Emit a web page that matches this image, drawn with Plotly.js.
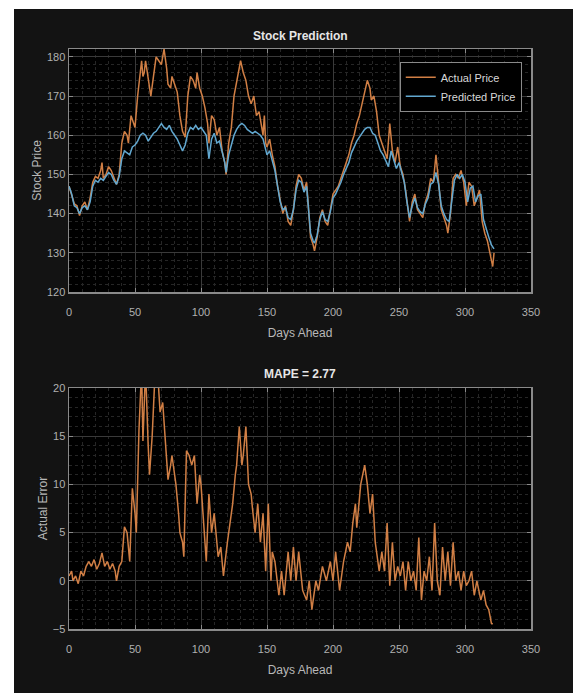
<!DOCTYPE html>
<html>
<head>
<meta charset="utf-8">
<script src="https://cdn.plot.ly/plotly-3.0.1.min.js"></script>
<style>
html,body{margin:0;padding:0;background:#ffffff;width:573px;height:693px;overflow:hidden;}
#chart{position:absolute;left:14px;top:9px;width:559px;height:684px;}
</style>
</head>
<body>
<div id="chart"></div>
<script>
// ---- data ----
const actualDays = [0,2,4,6,8,10,12,14,16,18,20,22,24,25,26,28,30,32,34,36,38,40,42,44,45,47,49,50,52,54,55,56,57,58,60,62,64,66,68,70,72,74,75,77,78,80,82,84,86,88,90,92,94,96,97,99,101,103,105,106,108,110,112,114,116,118,119,121,123,125,127,129,130,132,134,136,138,140,142,144,146,147,148,149,150,152,154,156,158,160,162,164,166,168,170,172,174,176,178,180,181,182,183,185,186,188,190,192,194,196,198,200,202,204,206,208,210,212,214,216,218,220,222,224,226,228,229,231,233,235,237,239,241,243,245,247,249,251,253,255,257,258,260,262,264,266,268,270,272,274,276,278,280,282,284,286,287,289,291,293,295,297,299,301,303,305,307,309,311,313,315,317,319,320,321,322];
const actualPrice = [147,145,142.5,142,139.5,142,143,141,144,148,149.5,149,151,153,149,150,152,151,149,147.5,150,158,161,160,158,165,163,162,170,177,179,175,176,179,175,170,175,180,179,178,182,177,173,172,175,173,171,165,161,159.5,170,175,174,172,176,172,170,167,163,158,165,164,160,162,156,153,150,158,162,170,174,177,179,176,174,170,168,170,165,166,162,160,165,158,157,159,155,152,147,143,140,142,138,137,141,147,150,149,146,148,143,138,134,132,130.5,134,139,141,138,137,141,145,146,147,149,151,153,155,158,160,163,165,168,171,174,172,169,170,166,160,158,156,154,163,156,153,157,152,150,146,140,138,143,145,141,140,139,143,145,149,148,155,147,141,139,137,135,140,149,150,149,151,148,142,148,147,142,144,146,138,135,133,130,128,126.5,130];

const predDays = [0,2,4,6,8,10,12,14,16,18,20,22,24,26,28,30,32,34,36,38,40,42,44,46,48,50,52,54,56,58,60,62,64,66,68,70,72,74,76,78,80,82,84,86,88,90,92,94,96,98,100,102,104,106,108,110,112,114,116,118,119,121,123,125,127,129,131,133,135,137,139,141,143,145,147,149,150,152,154,156,158,160,162,164,166,168,170,172,174,176,178,180,181,182,183,185,186,188,190,192,194,196,198,200,202,204,206,208,210,212,214,216,218,220,222,224,226,228,230,232,234,236,238,240,242,244,246,248,250,252,254,256,258,260,262,264,266,268,270,272,274,276,278,280,282,284,286,288,290,292,294,296,298,300,302,304,306,308,310,312,314,316,318,320,322];
const predictedPrice = [147,145,142,141.5,140,141.5,142,141,143,147,148.5,148,149,148.5,149.5,150.5,150,148.5,147.5,149.5,154,156,155.5,155,157,157.5,158.5,160,160.5,160,158.5,159.5,160.5,161,162,163,162,161.5,162.5,161,160,159,157.5,156,157.5,160.5,162,161.5,162.5,161.5,162,161,160,154,159,160.5,158,158.5,156,153,150.5,155,157.5,160,161.5,162.5,163,162.5,161.5,161,160.5,161,160.5,160,159,156,155,156,153.5,151,147,143,141,141.5,139,138.5,141,146,148.5,148,145.5,147,143,139,135,133,132.5,134.5,138.5,140.5,138.5,138,140.5,144,145,146.5,148,150,151.5,153,155.5,157,158.5,159.5,160.5,161.5,162,162,160.5,160,158,156,155,153.5,152,156,153.5,151.5,153,150.5,148,143,139,142,144,141.5,140.5,140,142.5,144,147.5,148,150.5,147.5,142,140,138.5,138,143,148.5,150,149,150,148,143,146.5,147,143,144.5,145,138.5,136,134,132,131];

const errorDays = [0,2,3,5,7,9,11,13,15,17,19,21,23,25,27,29,31,33,35,36,38,40,42,44,46,48,50,51,53,54,55,56,57,58,60,61,63,65,67,69,71,73,75,77,78,80,81,83,84,86,87,89,91,93,95,97,99,100,102,104,106,108,110,112,113,115,117,120,122,124,126,127,129,131,132,134,136,138,139,141,143,145,147,149,151,153,154,156,159,161,163,166,168,170,172,174,177,180,182,184,187,189,192,195,198,200,202,205,208,211,213,215,217,218,221,224,226,228,230,232,235,237,239,241,243,245,247,249,251,253,255,257,259,261,263,265,267,269,271,273,275,277,279,281,283,285,287,289,291,293,295,297,299,301,303,305,307,309,312,314,316,318,320,321];
const actualError = [0.5,1,0,0.5,-0.3,1,0.5,1.5,2,1.5,2.2,1.2,1.8,2.9,1.5,2,1.2,1.8,1,0,1.5,2,5.6,5,2,9.6,7,5,15.6,21,22,14.5,21,22,14,11,15,21,22,17.5,18.5,14,10.5,12,13,11,10,7,5,4,2.5,13.5,13,12,13,8,11,10,6,2,9,5,7,4,2.5,3.5,0.5,4,6,8,11,12,16,12,13,16,10,9,7.5,5,8,4,7,1,8,0,3,2,-1.5,1,-1.5,3,0,3.5,0,3,-1,-2,0,-3,0,-1,1.5,0,2,0,3,-1,2,4,3,6,8,5.5,10,12,10,7,9,4,1,3,1,6,-0.5,4,0,1.5,0.5,2,-1,2,0,1,-1,4.5,-2,1,0,2.5,-1,6,0,-1.5,3.5,0,3,-0.5,4,0,1,-1,1,-0.5,0,1,-1.5,0,-2,-1,-2.5,-3,-4.4,-4.5];

const xTicks = [0,50,100,150,200,250,300,350];
const priceTicks = [120,130,140,150,160,170,180];
const errorTicks = [-5,0,5,10,15,20];

// ---- styling ----
const ORANGE = '#D17F45';
const BLUE = '#62A8D0';
const FONT = 'Liberation Sans, Arial, Helvetica, sans-serif';

function axisStyle(extra) {
  return Object.assign({
    showline: true, mirror: 'ticks', linecolor: '#8a8a8a', linewidth: 1.5,
    ticks: 'inside', ticklen: 4, tickcolor: '#8a8a8a',
    showgrid: true, gridcolor: '#3a3a3a', gridwidth: 1,
    zeroline: false,
    tickfont: {family: FONT, size: 11, color: '#b0b0b0'}
  }, extra);
}
const xTitleFont = {family: FONT, size: 12, color: '#b8b8b8'};

const traces = [
  {x: actualDays, y: actualPrice, type: 'scatter', mode: 'lines', name: 'Actual Price',
   line: {color: ORANGE, width: 1.5}, xaxis: 'x', yaxis: 'y'},
  {x: predDays, y: predictedPrice, type: 'scatter', mode: 'lines', name: 'Predicted Price',
   line: {color: BLUE, width: 1.5}, xaxis: 'x', yaxis: 'y'},
  {x: errorDays, y: actualError, type: 'scatter', mode: 'lines', name: 'Error',
   line: {color: ORANGE, width: 1.5}, xaxis: 'x2', yaxis: 'y2', showlegend: false}
];

const layout = {
  width: 559, height: 684,
  paper_bgcolor: '#131313', plot_bgcolor: '#000000',
  margin: {l: 55, r: 42, t: 40, b: 64},
  showlegend: true,
  legend: {x: 0.98, y: 0.978, xanchor: 'right', yanchor: 'top',
           bgcolor: '#000000', bordercolor: '#8a8a8a', borderwidth: 1,
           font: {family: FONT, size: 11, color: '#d8d8d8'}},
  xaxis: axisStyle({domain: [0, 1], anchor: 'y', range: [0, 350], tickvals: xTicks, ticklabelstandoff: 9,
    minor: {showgrid: true, dtick: 10, gridcolor: '#262626', griddash: 'dot', ticks: ''},
    title: {text: 'Days Ahead', font: xTitleFont, standoff: 12}}),
  yaxis: axisStyle({domain: [0.581, 1], anchor: 'x', range: [120, 182], tickvals: priceTicks,
    minor: {showgrid: true, dtick: 2, gridcolor: '#262626', griddash: 'dot', ticks: ''},
    title: {text: 'Stock Price', font: xTitleFont, standoff: 2}}),
  xaxis2: axisStyle({domain: [0, 1], anchor: 'y2', range: [0, 350], tickvals: xTicks, ticklabelstandoff: 9,
    minor: {showgrid: true, dtick: 10, gridcolor: '#262626', griddash: 'dot', ticks: ''},
    title: {text: 'Days Ahead', font: xTitleFont, standoff: 12}}),
  yaxis2: axisStyle({domain: [0, 0.4155], anchor: 'x2', range: [-5, 20], tickvals: errorTicks,
    minor: {showgrid: true, dtick: 1, gridcolor: '#262626', griddash: 'dot', ticks: ''},
    title: {text: 'Actual Error', font: xTitleFont, standoff: 2}}),
  annotations: [
    {text: '<b>Stock Prediction</b>', xref: 'paper', yref: 'paper', x: 0.5, y: 1, yshift: 4,
     xanchor: 'center', yanchor: 'bottom', showarrow: false,
     font: {family: FONT, size: 12, color: '#e6e6e6'}},
    {text: '<b>MAPE = 2.77</b>', xref: 'paper', yref: 'paper', x: 0.5, y: 0.4155, yshift: 5,
     xanchor: 'center', yanchor: 'bottom', showarrow: false,
     font: {family: FONT, size: 12, color: '#e6e6e6'}}
  ]
};

Plotly.newPlot('chart', traces, layout, {displayModeBar: false, staticPlot: true});
</script>
</body>
</html>
